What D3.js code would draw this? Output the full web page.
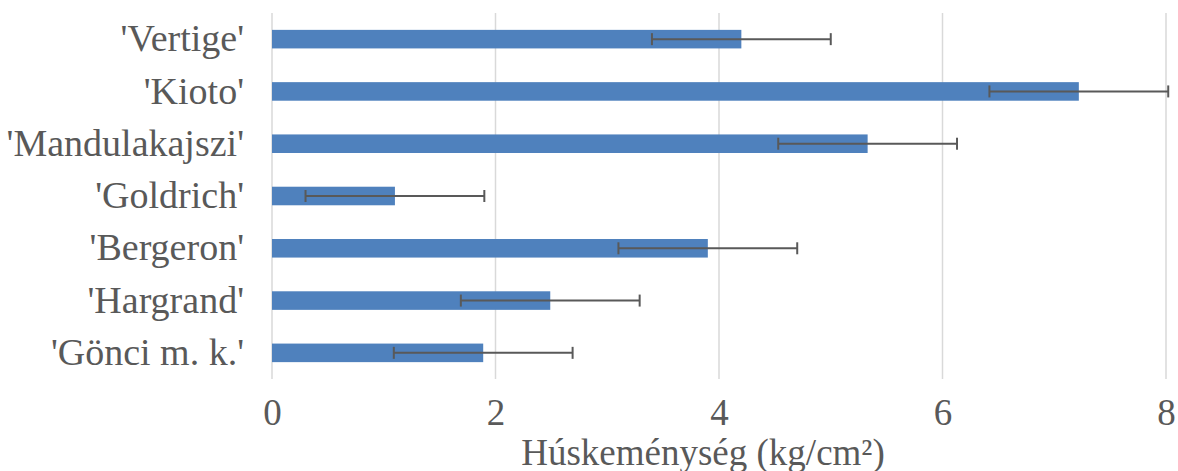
<!DOCTYPE html>
<html lang='hu'>
  <head>
    <meta charset='utf-8'>
    <style type='text/css'>
      body { margin: 0; background-color: #fff; }
      #chart { width: 1178px; height: 471px; }
      text { font-family: 'Liberation Serif', 'Times New Roman', serif; fill: #595959; }
    </style>
  </head>
  <body>
    <div id='chart'><svg width='1178' height='471'></svg></div>

    <script src='https://d3js.org/d3.v7.min.js'></script>
    <script type='text/javascript'>
      // chart data
      var cultivars = ["'Vertige'", "'Kioto'", "'Mandulakajszi'", "'Goldrich'", "'Bergeron'", "'Hargrand'", "'Gönci m. k.'"];
      var firmness = [4.2, 7.22, 5.33, 1.1, 3.9, 2.49, 1.89];
      var errors   = [0.8, 0.8, 0.8, 0.8, 0.8, 0.8, 0.8];
      var xTicks   = [0, 2, 4, 6, 8];
      var xTitle   = "Húskeménység (kg/cm²)";

      var margin = {top: 13, right: 12, bottom: 92, left: 272};
      var width  = 1178 - margin.left - margin.right;
      var height = 471 - margin.top - margin.bottom;

      var svg = d3.select("svg").append("g")
          .attr("transform", "translate(" + margin.left + "," + margin.top + ")");

      var data = cultivars.map(function(c, i) {
        return {name: c, value: firmness[i], err: errors[i]};
      });

      var x = d3.scaleLinear().domain([0, 8]).range([0, width]);
      var y = d3.scaleBand().domain(cultivars).range([0, height]).paddingInner(0.645).paddingOuter(0.3225);

      // gridlines
      svg.selectAll(".grid").data(xTicks).enter().append("line")
          .attr("class", "grid")
          .attr("x1", function(d) { return x(d); })
          .attr("x2", function(d) { return x(d); })
          .attr("y1", 0).attr("y2", height)
          .attr("stroke", "#d9d9d9").attr("stroke-width", 1.5);

      // bottom tick labels
      var xAxis = svg.append("g")
          .attr("transform", "translate(0," + (height + 20) + ")")
          .call(d3.axisBottom(x).tickValues(xTicks).tickSize(0).tickPadding(0).tickFormat(d3.format("d")));
      xAxis.select(".domain").remove();
      xAxis.selectAll("text").attr("font-size", "37px").attr("dy", "0.71em").attr("fill", "#595959")
          .style("font-family", "'Liberation Serif', 'Times New Roman', serif");

      // left category labels
      var yAxis = svg.append("g")
          .attr("transform", "translate(-28,0)")
          .call(d3.axisLeft(y).tickSize(0).tickPadding(0));
      yAxis.select(".domain").remove();
      yAxis.selectAll("text").attr("font-size", "38px").attr("dy", "0.32em").attr("fill", "#595959")
          .style("font-family", "'Liberation Serif', 'Times New Roman', serif");

      // bars
      svg.selectAll(".bar").data(data).enter().append("rect")
          .attr("class", "bar")
          .attr("x", x(0))
          .attr("y", function(d) { return y(d.name); })
          .attr("width", function(d) { return x(d.value) - x(0); })
          .attr("height", y.bandwidth())
          .attr("fill", "#4f81bd");

      // error bars
      var eb = svg.selectAll(".err").data(data).enter().append("g")
          .attr("class", "err")
          .attr("stroke", "#595959").attr("stroke-width", 2);
      eb.append("line")
          .attr("x1", function(d) { return x(d.value - d.err); })
          .attr("x2", function(d) { return x(d.value + d.err); })
          .attr("y1", function(d) { return y(d.name) + y.bandwidth() / 2; })
          .attr("y2", function(d) { return y(d.name) + y.bandwidth() / 2; });
      [-1, 1].forEach(function(s) {
        eb.append("line")
            .attr("x1", function(d) { return x(d.value + s * d.err); })
            .attr("x2", function(d) { return x(d.value + s * d.err); })
            .attr("y1", function(d) { return y(d.name) + y.bandwidth() / 2 - 6; })
            .attr("y2", function(d) { return y(d.name) + y.bandwidth() / 2 + 6; });
      });

      // axis title (clipped at the bottom edge, as in the source)
      svg.append("text")
          .attr("x", 703 - margin.left)
          .attr("y", 465 - margin.top)
          .attr("text-anchor", "middle")
          .attr("font-size", "37px")
          .text(xTitle);
    </script>
  </body>
</html>
